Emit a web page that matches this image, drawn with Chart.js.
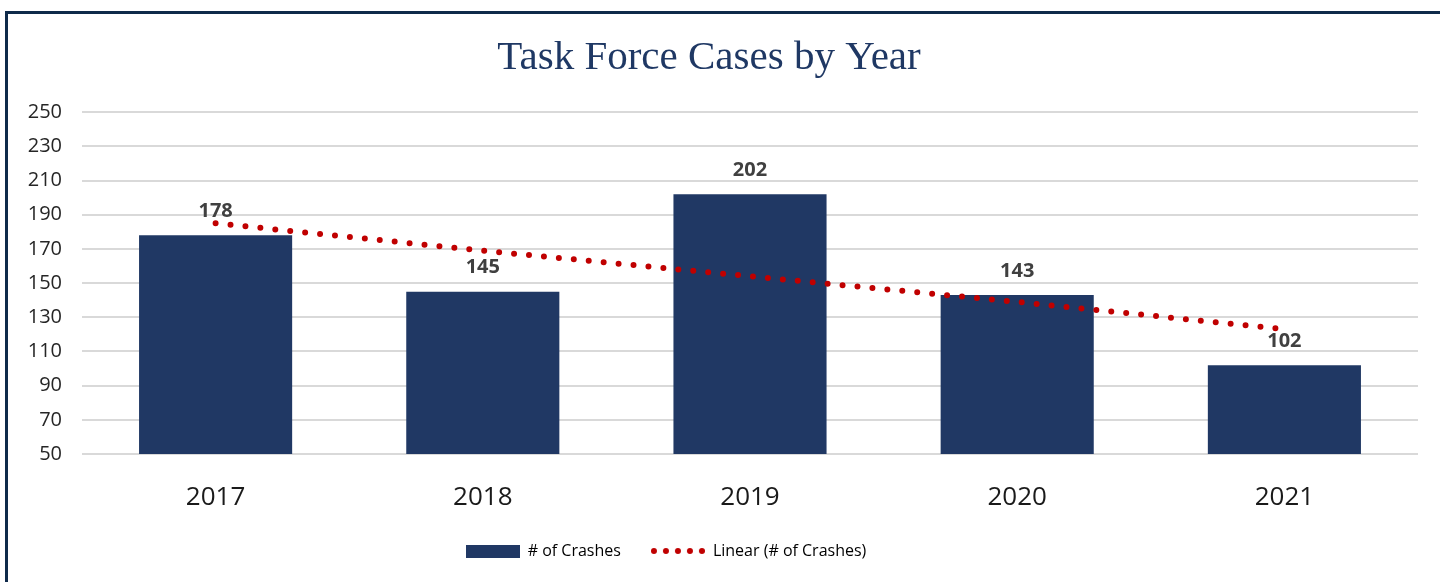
<!DOCTYPE html>
<html>
<head>
<meta charset="utf-8">
<script src="https://cdn.jsdelivr.net/npm/chart.js@4.4.0/dist/chart.umd.min.js"></script>
<style>
html, body { margin: 0; padding: 0; background: #fff; }
#wrap { position: relative; width: 1440px; height: 582px; overflow: hidden; }
#frame { position: absolute; left: 5px; top: 11px; right: -5px; bottom: -5px;
  border-left: 3px solid #0f2a4a; border-top: 3px solid #0f2a4a; pointer-events: none; }
</style>
</head>
<body>
<div id="wrap">
  <canvas id="bar-chart" width="1440" height="582"></canvas>
  <div id="frame"></div>
</div>
<script>
var years = ['2017', '2018', '2019', '2020', '2021'];
var crashes = [178, 145, 202, 143, 102];
// trendline
var trend = [185, 169, 154, 139, 123];
var yMin = 50;
var yMax = 250;
var yStep = 20;

var navy = '#203864';
var red = '#c00000';

// little swatches for the legend
function makeBarSwatch() {
    var c = document.createElement('canvas');
    c.width = 54; c.height = 13;
    var g = c.getContext('2d');
    g.fillStyle = navy;
    g.fillRect(0, 0, 54, 13);
    return c;
}
function makeDotSwatch() {
    var c = document.createElement('canvas');
    c.width = 54; c.height = 8;
    var g = c.getContext('2d');
    g.fillStyle = red;
    for (var i = 0; i < 5; i++) {
        g.beginPath();
        g.arc(3 + i * 12, 4, 3, 0, Math.PI * 2);
        g.fill();
    }
    return c;
}

var barLabels = {
    id: 'barLabels',
    afterDatasetsDraw: function (chart) {
        var ctx = chart.ctx;
        var meta = chart.getDatasetMeta(0);
        ctx.save();
        ctx.font = 'bold 20px "Open Sans"';
        ctx.fillStyle = '#404040';
        ctx.textAlign = 'center';
        ctx.textBaseline = 'middle';
        meta.data.forEach(function (bar, i) {
            ctx.fillText(crashes[i], bar.x, bar.y - 24);
        });
        ctx.restore();
    }
};

var legendShift = {
    id: 'legendShift',
    afterLayout: function (chart) {
        chart.legend.left -= 43;
        chart.legend.right -= 43;
    }
};

var ctx = document.getElementById('bar-chart').getContext('2d');
var chart = new Chart(ctx, {
    type: 'bar',
    data: {
        labels: years,
        datasets: [{
            label: '# of Crashes',
            data: crashes,
            backgroundColor: navy,
            categoryPercentage: 1,
            barPercentage: 0.573,
            order: 1
        }, {
            type: 'line',
            label: 'Linear (# of Crashes)',
            data: trend,
            borderColor: red,
            borderWidth: 6,
            borderDash: [0, 15],
            borderCapStyle: 'round',
            pointRadius: 0,
            fill: false,
            tension: 0,
            order: 0
        }]
    },
    options: {
        responsive: false,
        animation: false,
        layout: { padding: { left: 0, right: 22, top: 0, bottom: 13 } },
        plugins: {
            tooltip: { enabled: false },
            title: {
                display: true,
                text: 'Task Force Cases by Year',
                color: '#1f3864',
                font: { family: '"Liberation Serif", "Times New Roman", serif', size: 41, weight: 'normal' },
                padding: { top: 34, bottom: 29 }
            },
            legend: {
                position: 'bottom',
                labels: {
                    usePointStyle: true,
                    pointStyleWidth: 54,
                    padding: 30,
                    color: '#595959',
                    font: { family: '"Open Sans"', size: 16 },
                    generateLabels: function () {
                        return [
                            { text: '# of Crashes', pointStyle: makeBarSwatch(), fillStyle: navy, strokeStyle: navy, lineWidth: 0, hidden: false, datasetIndex: 0 },
                            { text: 'Linear (# of Crashes)', pointStyle: makeDotSwatch(), fillStyle: red, strokeStyle: red, lineWidth: 0, hidden: false, datasetIndex: 1 }
                        ];
                    }
                }
            }
        },
        scales: {
            x: {
                grid: { display: false },
                border: { display: false },
                ticks: {
                    color: '#1a1a1a',
                    padding: 20,
                    font: { family: '"Open Sans"', size: 26 }
                },
                afterFit: function (s) { s.height = 59; }
            },
            y: {
                min: yMin,
                max: yMax,
                grid: { color: '#d9d9d9', lineWidth: 2, drawTicks: false },
                border: { display: false },
                ticks: {
                    stepSize: yStep,
                    color: '#262626',
                    padding: 20,
                    font: { family: '"Open Sans"', size: 20 }
                },
                afterFit: function (s) { s.width = 82; }
            }
        }
    },
    plugins: [barLabels, legendShift]
});
</script>
</body>
</html>
